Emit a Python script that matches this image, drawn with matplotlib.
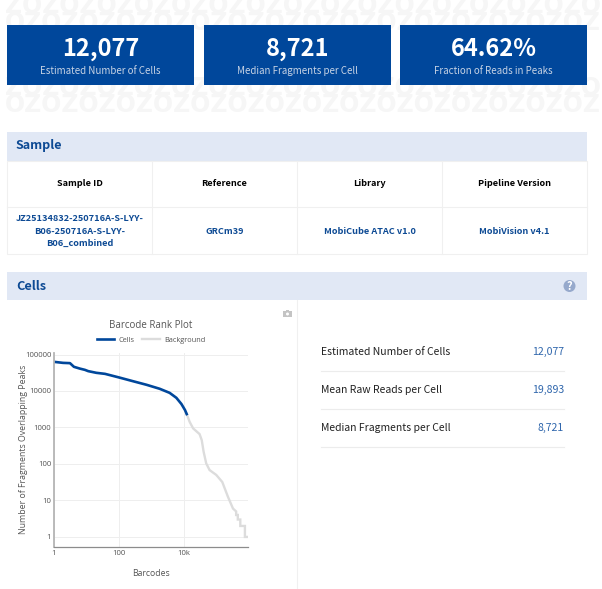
import numpy as np
import matplotlib
matplotlib.use('Agg')
import matplotlib.pyplot as plt
from matplotlib.patches import Rectangle, Circle
from matplotlib.ticker import FixedLocator, FixedFormatter, NullLocator

W, H = 602, 589
BLUE = '#00479b'
HEAD = '#e1e8f5'
LINE = '#f0f0f0'
UI_FONT = ['Noto Sans CJK SC', 'DejaVu Sans']
PLOT_FONT = ['Open Sans', 'DejaVu Sans']

plt.rcParams['font.family'] = UI_FONT

# Data
card_values = ['12,077', '8,721', '64.62%']
card_labels = ['Estimated Number of Cells', 'Median Fragments per Cell', 'Fraction of Reads in Peaks']

sample_heads = ['Sample ID', 'Reference', 'Library', 'Pipeline Version']
sample_cells = ['JZ25134832-250716A-S-LYY-\nB06-250716A-S-LYY-\nB06_combined', 'GRCm39',
                'MobiCube ATAC v1.0', 'MobiVision v4.1']

cell_stats = ['Estimated Number of Cells', 'Mean Raw Reads per Cell', 'Median Fragments per Cell']
cell_stat_values = ['12,077', '19,893', '8,721']

cells_rank = [1, 1.9, 3.1, 4.1, 6.3, 8.9, 11.3, 20, 37, 100, 272, 700, 1780, 3600, 5800, 8300, 10700, 12077]
cells_frags = [63000, 59000, 58000, 46000, 41000, 38000, 35000, 31500, 29500, 23500, 18500, 14800,
               11500, 8900, 6500, 4400, 3000, 2330]

bg_rank = [12077, 14800, 19000, 30000, 35000, 40000, 48000, 61000, 98000, 150000, 224000, 320000,
           400000, 400000, 450000, 450000, 537000, 537000, 745000, 745000, 940000]
bg_frags = [2330, 1440, 945, 660, 450, 216, 104, 68, 50, 32, 12.6, 6,
            5, 4, 4, 3, 3, 2, 2, 1, 1]

fig = plt.figure(figsize=(W / 100, H / 100), dpi=100)

# page layer in pixel coordinates
page = fig.add_axes([0, 0, 1, 1])
page.set_xlim(0, W)
page.set_ylim(H, 0)
page.axis('off')


def box(x, y, w, h, color, **kw):
    page.add_patch(Rectangle((x, y), w, h, facecolor=color, edgecolor='none', **kw))


# faint ZO watermark above and below the cards
for row_y, word in zip([6, 23, 88, 105], ['ZO', 'OZ', 'ZO', 'OZ']):
    page.text(5, row_y, word * 16, fontsize=17, fontweight='bold', color='#f6f6f6',
              family='DejaVu Sans', va='center', ha='left', zorder=0)

# cards
for x, val, lab in zip([7, 204, 400], card_values, card_labels):
    box(x, 25, 187, 60, BLUE, zorder=1)
    page.text(x + 93.5, 49, val, color='white', fontsize=17, fontweight='bold', ha='center', va='center')
    page.text(x + 93.5, 71, lab, color='#c6d2e4', fontsize=7, ha='center', va='center')

# sample section
box(7, 132, 580, 29, HEAD)
page.text(16, 146, 'Sample', color='#0d4a94', fontsize=9, fontweight='bold', va='center')
page.add_patch(Rectangle((7, 161), 580, 93, facecolor='none', edgecolor=LINE, lw=0.8))
page.plot([7, 587], [207, 207], color=LINE, lw=0.8)
cols = [7, 152, 297, 442, 587]
for i in range(4):
    if i > 0:
        page.plot([cols[i], cols[i]], [161, 254], color=LINE, lw=0.8)
    cx = (cols[i] + cols[i + 1]) / 2
    page.text(cx, 183.5, sample_heads[i], color='black', fontsize=6.6, fontweight='bold', ha='center', va='center')
    page.text(cx, 231, sample_cells[i], color='#0d4a94', fontsize=6.6, fontweight='bold', ha='center',
              va='center', linespacing=1.45)

# cells section
box(7, 272, 580, 28, HEAD)
page.text(16, 286, 'Cells', color='#0d4a94', fontsize=9.2, fontweight='bold', va='center')
page.add_patch(Circle((569.5, 286), 6, facecolor='#96a9cc', edgecolor='none'))
page.text(569.5, 286, '?', color='white', fontsize=8, fontweight='bold', ha='center', va='center')
page.plot([297, 297], [300, H], color=LINE, lw=0.8)

# camera icon of the plot toolbar
box(283, 311, 9, 6, '#c4c4c4')
box(286, 309.5, 3, 2, '#c4c4c4')
page.add_patch(Circle((287.5, 314), 1.5, facecolor='white', edgecolor='none'))

# stats list
for y, lab, val in zip([352, 390, 428], cell_stats, cell_stat_values):
    page.text(321, y, lab, color='#222222', fontsize=7.5, va='center')
    page.text(564, y, val, color='#2f66ac', fontsize=7.6, va='center', ha='right')
    page.plot([321, 564], [y + 19, y + 19], color='#ececec', lw=0.8)

# barcode rank plot
ax = fig.add_axes([54 / W, 1 - 547 / H, (248.5 - 54) / W, (547 - 353) / H])
ax.set_xscale('log')
ax.set_yscale('log')
ax.set_xlim(1, 960000)
ax.set_ylim(0.53, 110000)
ax.patch.set_alpha(0)

ax.plot(bg_rank, bg_frags, color='#dcdcdc', lw=1.7, label='Background', solid_joinstyle='miter')
ax.plot(cells_rank, cells_frags, color=BLUE, lw=1.9, label='Cells')

ax.xaxis.set_major_locator(FixedLocator([1, 100, 10000]))
ax.xaxis.set_major_formatter(FixedFormatter(['1', '100', '10k']))
ax.xaxis.set_minor_locator(NullLocator())
ax.yaxis.set_major_locator(FixedLocator([1, 10, 100, 1000, 10000, 100000]))
ax.yaxis.set_major_formatter(FixedFormatter(['1', '10', '100', '1000', '10000', '100000']))
ax.yaxis.set_minor_locator(NullLocator())
ax.grid(True, color='#eeeeee', lw=0.7)
ax.set_axisbelow(True)
ax.tick_params(length=0, labelsize=5.6, labelcolor='#555555', pad=2)
for lab in ax.get_xticklabels() + ax.get_yticklabels():
    lab.set_family(PLOT_FONT)
for s in ['top', 'right']:
    ax.spines[s].set_visible(False)
ax.spines['left'].set_color('#b5b5b5')
ax.spines['left'].set_linewidth(1.3)
ax.spines['bottom'].set_color('#8c8c8c')
ax.spines['bottom'].set_linewidth(0.9)

page.text(151, 325.5, 'Barcode Rank Plot', color='#555555', fontsize=7, ha='center', va='center', family=PLOT_FONT)
page.text(151, 574, 'Barcodes', color='#555555', fontsize=6.2, ha='center', va='center', family=PLOT_FONT)
page.text(24, 449, 'Number of Fragments Overlapping Peaks', color='#555555', fontsize=6.3, ha='center',
          va='center', rotation=90, family=PLOT_FONT)

handles, labels = ax.get_legend_handles_labels()
fig.legend(handles[::-1], labels[::-1], loc='center', bbox_to_anchor=(151 / W, 1 - 340 / H), ncol=2,
           frameon=False, labelcolor='#555555', handlelength=2.4, columnspacing=1.0,
           handletextpad=0.6, borderpad=0, prop={'family': PLOT_FONT, 'size': 5.3})

fig.savefig('out.png', dpi=100)
